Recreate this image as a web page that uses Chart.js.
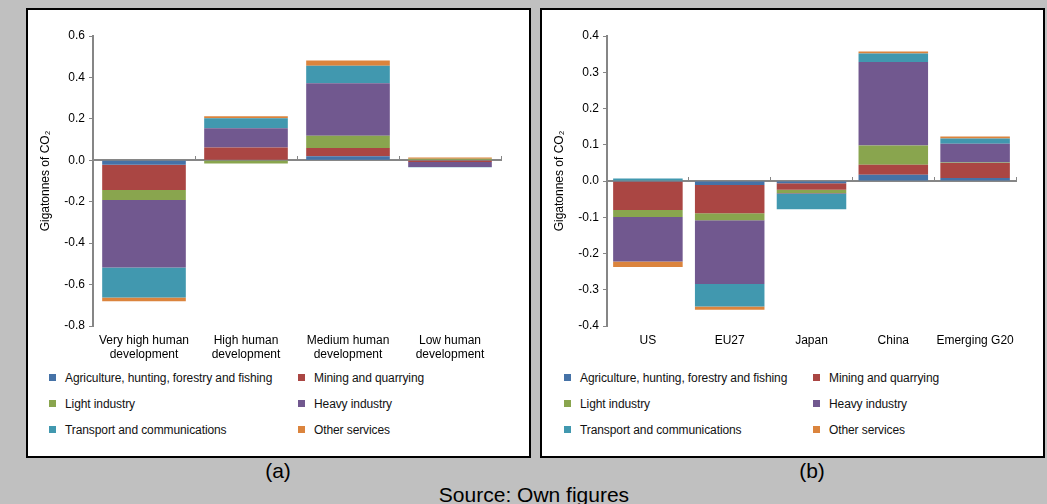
<!DOCTYPE html>
<html>
<head>
<meta charset="utf-8">
<script src="https://cdn.jsdelivr.net/npm/chart.js@4.4.1/dist/chart.umd.min.js"></script>
<style>
  body { margin: 0; width: 1047px; height: 504px; background: #c0c0c0; position: relative; overflow: hidden;
         font-family: "Liberation Sans", Arial, sans-serif; color: #000; }
  .panel { position: absolute; top: 8px; width: 501px; height: 446px; background: #fff; border: 2px solid #000; }
  canvas { position: absolute; top: 10px; }
  .legend-item { position: absolute; font-size: 12px; line-height: 14px; letter-spacing: -0.1px; white-space: nowrap; color: #111; }
  .legend-item i { position: absolute; left: -16px; top: 3px; width: 7px; height: 7px; }
  .caption { position: absolute; font-size: 21px; line-height: 21px; white-space: nowrap; transform: translateX(-50%); }
</style>
</head>
<body>
<div class="panel" style="left:26px"></div>
<div class="panel" style="left:540px"></div>
<canvas id="chartA" width="500" height="360" style="left:28px"></canvas>
<canvas id="chartB" width="500" height="360" style="left:542px"></canvas>
<div id="legendA"></div>
<div id="legendB"></div>
<div class="caption" style="left:278px; top:460px">(a)</div>
<div class="caption" style="left:812px; top:460px">(b)</div>
<div class="caption" style="left:534px; top:484px">Source: Own figures</div>

<script>
// Change in emissions by sector, Gt CO2

const sectors = ['Agriculture, hunting, forestry and fishing', 'Mining and quarrying', 'Light industry',
                 'Heavy industry', 'Transport and communications', 'Other services'];

// (a) human development groups
const hdiGroups = [['Very high human', 'development'], ['High human', 'development'],
                   ['Medium human', 'development'], ['Low human', 'development']];
const agricultureA = [-0.022, 0.002, 0.019, 0];
const miningA      = [-0.121, 0.060, 0.040, -0.008];
const lightA       = [-0.049, -0.015, 0.060, 0.007];
const heavyA       = [-0.326, 0.093, 0.253, -0.024];
const transportA   = [-0.145, 0.048, 0.084, -0.002];
const servicesA    = [-0.017, 0.010, 0.026, 0.006];
const yTicksA = [-0.8, -0.6, -0.4, -0.2, 0, 0.2, 0.4, 0.6];

// (b) selected economies
const economies = ['US', 'EU27', 'Japan', 'China', 'Emerging G20'];
const agricultureB = [-0.002, -0.011, -0.006, 0.017, 0.008];
const miningB      = [-0.078, -0.078, -0.018, 0.028, 0.042];
const lightB       = [-0.019, -0.019, -0.010, 0.053, 0.001];
const heavyB       = [-0.123, -0.176, -0.002, 0.230, 0.052];
const transportB   = [0.007, -0.062, -0.042, 0.024, 0.014];
const servicesB    = [-0.015, -0.009, 0, 0.005, 0.006];
const yTicksB = [-0.4, -0.3, -0.2, -0.1, 0, 0.1, 0.2, 0.3, 0.4];

const sectorColors = ['#4572a7', '#aa4643', '#89a54e', '#71588f', '#4198af', '#db843d'];
const axisGray = '#868686';

Chart.defaults.font.family = '"Liberation Sans", Arial, sans-serif';
Chart.defaults.color = '#000';

function buildChart(canvasId, labels, series, ticks, barPct, padRight) {
    const ctx = document.getElementById(canvasId).getContext('2d');
    return new Chart(ctx, {
        type: 'bar',
        data: {
            labels: labels,
            datasets: series.map((values, i) => ({
                label: sectors[i],
                data: values,
                backgroundColor: sectorColors[i],
                borderWidth: 0,
                xAxisID: 'x',
                yAxisID: 'y',
                barPercentage: barPct,
                categoryPercentage: 1
            }))
        },
        options: {
            responsive: false,
            animation: false,
            layout: { padding: { top: 26, right: padRight, left: 0, bottom: 0 } },
            plugins: { legend: { display: false }, tooltip: { enabled: false } },
            scales: {
                x: {
                    stacked: true,
                    grid: { display: false, drawTicks: false },
                    border: { display: false },
                    ticks: { padding: 8, color: '#000', font: { size: 12, lineHeight: 1.17 }, maxRotation: 0 },
                    afterFit: s => { s.height = 44; }
                },
                // zero line with the category separators
                x2: {
                    axis: 'x',
                    type: 'category',
                    position: { y: 0 },
                    offset: true,
                    ticks: { display: false },
                    grid: { offset: true, drawOnChartArea: false, drawTicks: true, tickLength: -5, color: axisGray, lineWidth: 1 },
                    border: { display: true, color: axisGray, width: 2 }
                },
                y: {
                    stacked: true,
                    min: ticks[0],
                    max: ticks[ticks.length - 1],
                    afterBuildTicks: s => { s.ticks = ticks.map(v => ({ value: v })); },
                    ticks: { callback: v => v.toFixed(1), color: '#000', font: { size: 12 }, padding: 4 },
                    grid: { drawOnChartArea: false, drawTicks: true, tickLength: 4, color: axisGray },
                    border: { color: axisGray, width: 2 },
                    title: { display: true, text: 'Gigatonnes of CO₂', color: '#000', font: { size: 12 }, padding: { top: 10, bottom: 0 } },
                    afterFit: s => { s.width = 65; }
                }
            }
        }
    });
}

function buildLegend(containerId, swatchLeft, colGap, rowTops) {
    const box = document.getElementById(containerId);
    sectors.forEach((name, i) => {
        const item = document.createElement('div');
        item.className = 'legend-item';
        item.style.left = (swatchLeft + 16 + (i % 2) * colGap) + 'px';
        item.style.top = rowTops[Math.floor(i / 2)] + 'px';
        item.innerHTML = '<i style="background:' + sectorColors[i] + '"></i>' + name;
        box.appendChild(item);
    });
}

buildChart('chartA', hdiGroups,
    [agricultureA, miningA, lightA, heavyA, transportA, servicesA], yTicksA, 0.82, 27);
buildChart('chartB', economies,
    [agricultureB, miningB, lightB, heavyB, transportB, servicesB], yTicksB, 0.85, 26);

buildLegend('legendA', 49, 249, [371, 397, 423]);
buildLegend('legendB', 564, 249, [371, 397, 423]);
</script>
</body>
</html>
